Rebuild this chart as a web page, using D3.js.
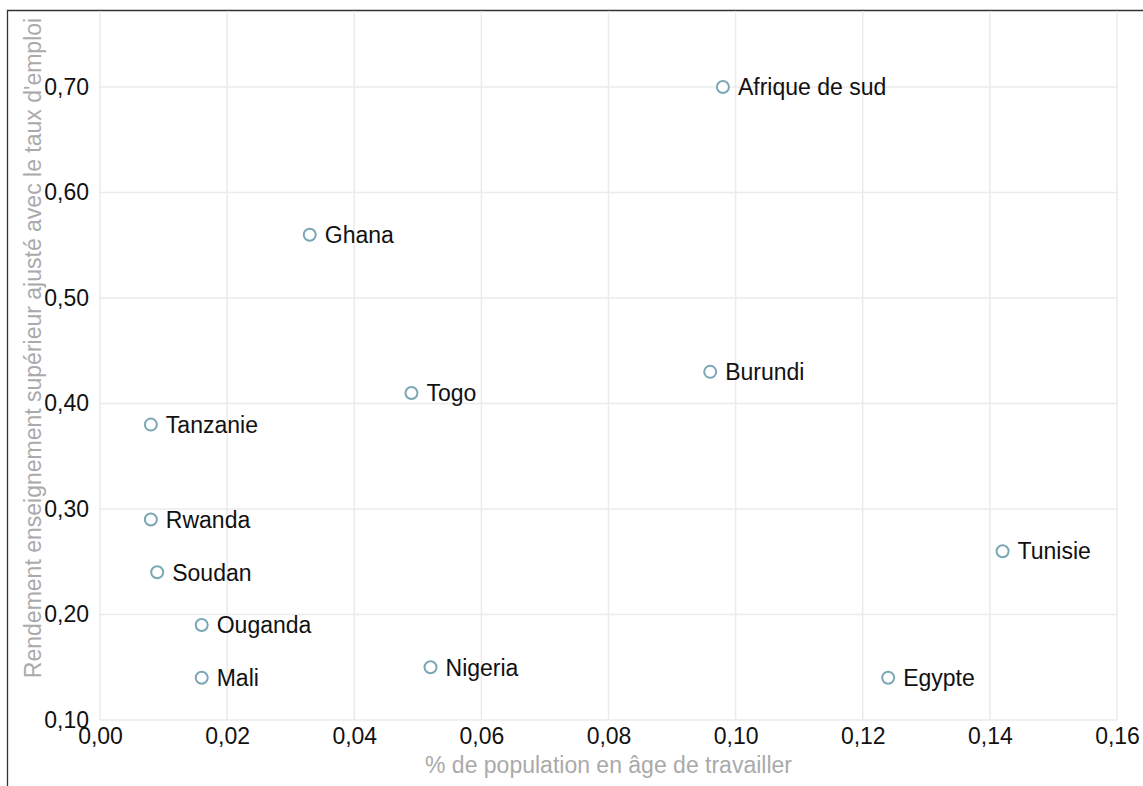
<!DOCTYPE html>
<html>
<head>
<meta charset="utf-8">
<script src="https://cdn.jsdelivr.net/npm/d3@7"></script>
<style>
  body { margin: 0; background: #fff; }
  svg { font-family: "Liberation Sans", Arial, sans-serif; }
</style>
</head>
<body>
<svg id="chart" width="1143" height="786"></svg>
<script>
// values
const countries = ["Afrique de sud", "Ghana", "Togo", "Burundi", "Tanzanie", "Rwanda",
    "Soudan", "Ouganda", "Mali", "Nigeria", "Egypte", "Tunisie"];
const popShare = [0.098, 0.033, 0.049, 0.096, 0.008, 0.008, 0.009, 0.016, 0.016, 0.052, 0.124, 0.142];
const returns = [0.70, 0.56, 0.41, 0.43, 0.38, 0.29, 0.24, 0.19, 0.14, 0.15, 0.14, 0.26];
const xTicks = [0, 0.02, 0.04, 0.06, 0.08, 0.10, 0.12, 0.14, 0.16];
const yTicks = [0.10, 0.20, 0.30, 0.40, 0.50, 0.60, 0.70];

const xTitle = "% de population en âge de travailler";
const yTitle = "Rendement enseignement supérieur ajusté avec le taux d'emploi";

// plot box (avoid window.top)
const plotLeft = 100, plotRight = 1117, plotBottom = 720, plotTop = 10;
const fontSize = 23;
const fmt = v => d3.format(".2f")(v).replace(".", ",");

const svg = d3.select("#chart");

const x = d3.scaleLinear().domain([0, 0.16]).range([plotLeft, plotRight]);
// 0,70 sits at y=87; the plot keeps going up to the frame
const y = d3.scaleLinear().domain([0.10, 0.70]).range([plotBottom, 87]);

// frame (left and top edges only are visible)
svg.append("path")
    .attr("d", "M7.5,786 L7.5,10.5 L1143,10.5")
    .attr("fill", "none")
    .attr("stroke", "#333")
    .attr("stroke-width", 1.3);

// grid
svg.append("g").selectAll("line")
    .data(xTicks)
    .join("line")
    .attr("x1", d => x(d)).attr("x2", d => x(d))
    .attr("y1", plotTop + 1).attr("y2", plotBottom)
    .attr("stroke", "#ebebeb")
    .attr("stroke-width", 1.5);

svg.append("g").selectAll("line")
    .data(yTicks)
    .join("line")
    .attr("x1", plotLeft).attr("x2", plotRight)
    .attr("y1", d => y(d)).attr("y2", d => y(d))
    .attr("stroke", "#ebebeb")
    .attr("stroke-width", 1.5);

// axes, drawn without domain lines or tick marks
const xAxis = svg.append("g")
    .attr("transform", "translate(0," + plotBottom + ")")
    .call(d3.axisBottom(x).tickValues(xTicks).tickFormat(fmt).tickSize(0).tickPadding(8));
const yAxis = svg.append("g")
    .attr("transform", "translate(" + plotLeft + ",0)")
    .call(d3.axisLeft(y).tickValues(yTicks).tickFormat(fmt).tickSize(0).tickPadding(11));

[xAxis, yAxis].forEach(a => {
    a.select(".domain").remove();
    a.selectAll("text")
        .attr("font-family", "Liberation Sans, Arial, sans-serif")
        .attr("font-size", fontSize)
        .attr("fill", "#111");
});

// axis titles
svg.append("text")
    .attr("x", (plotLeft + plotRight) / 2)
    .attr("y", 773)
    .attr("text-anchor", "middle")
    .attr("font-size", fontSize)
    .attr("fill", "#aaa")
    .text(xTitle);

svg.append("text")
    .attr("transform", "translate(41,348) rotate(-90)")
    .attr("text-anchor", "middle")
    .attr("font-size", fontSize)
    .attr("fill", "#aaa")
    .text(yTitle);

// points
const data = countries.map((c, i) => ({ name: c, x: popShare[i], y: returns[i] }));

const pts = svg.append("g").selectAll("g")
    .data(data)
    .join("g")
    .attr("transform", d => "translate(" + x(d.x) + "," + y(d.y) + ")");

pts.append("circle")
    .attr("r", 6)
    .attr("fill", "#fff")
    .attr("stroke", "#7aa6b6")
    .attr("stroke-width", 2);

pts.append("text")
    .attr("x", 15)
    .attr("dy", "0.36em")
    .attr("font-size", fontSize)
    .attr("fill", "#111")
    .text(d => d.name);
</script>
</body>
</html>
